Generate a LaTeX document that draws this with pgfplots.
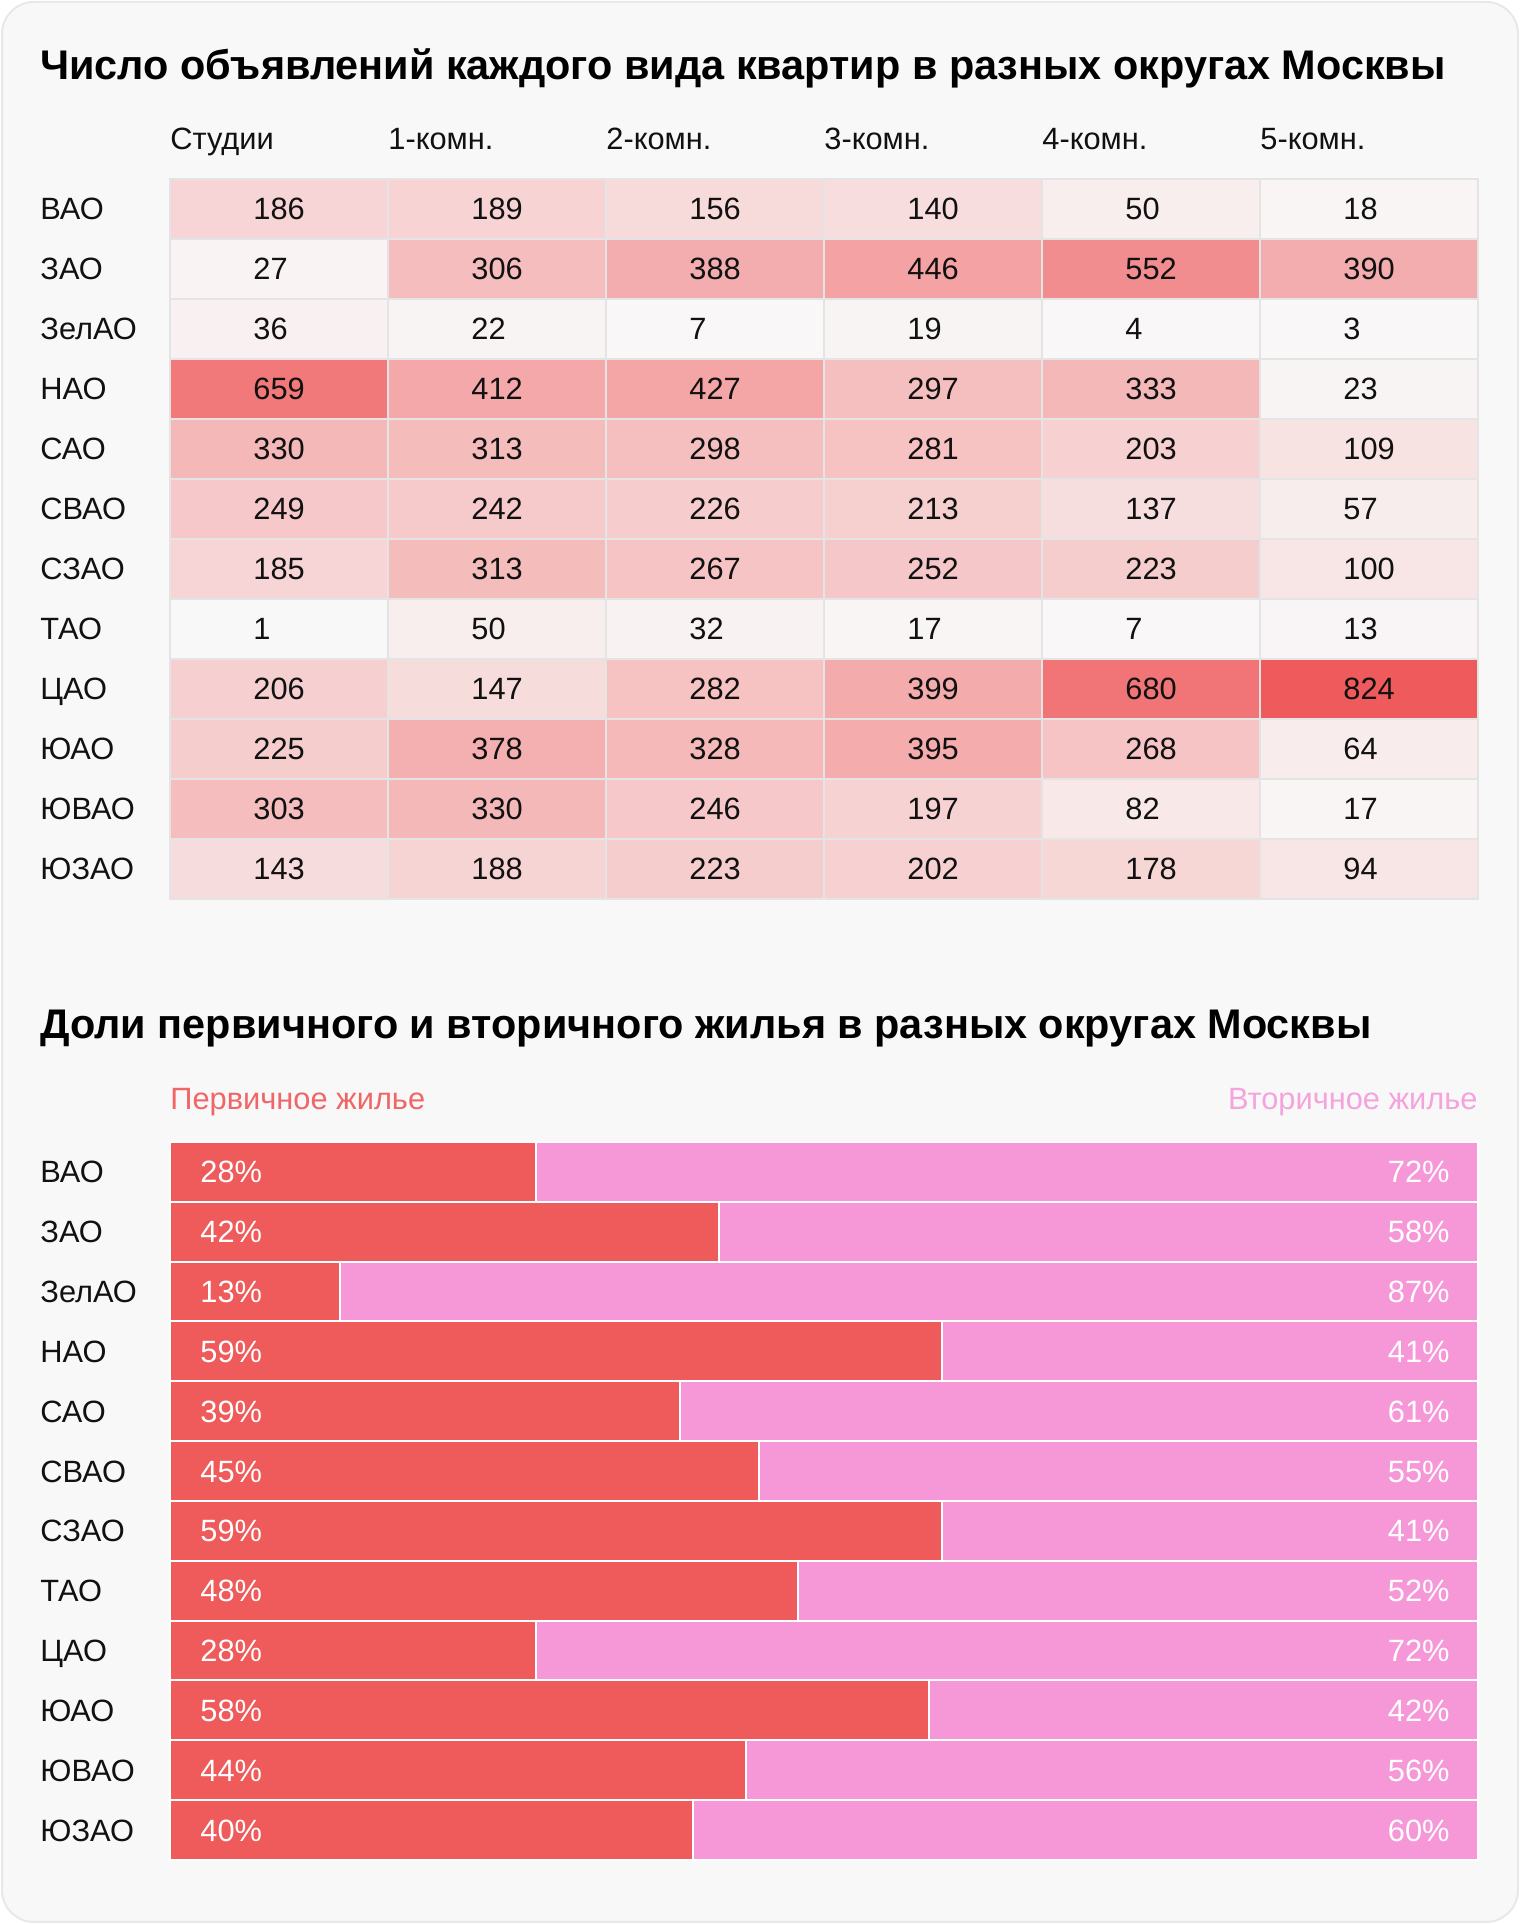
\documentclass[border=0pt]{standalone}
\usepackage{pgfplots}
\pgfplotsset{compat=1.18}
\usepackage{pgfplotstable}
\usepackage{fontspec}
\setmainfont{Liberation Sans}
\definecolor{cardbg}{HTML}{F8F8F8}
\definecolor{cardborder}{HTML}{E8E8E8}
\definecolor{gridc}{HTML}{E4E4E4}
\definecolor{redbar}{HTML}{EF5B5B}
\definecolor{pinkbar}{HTML}{F698D8}
\definecolor{redtxt}{HTML}{F06666}
\definecolor{pinktxt}{HTML}{F5A3DC}
\definecolor{txt}{HTML}{111111}
\newcommand\bodyfont{\fontsize{15.4}{18}\selectfont}
\newcommand\titlefont{\fontsize{20.7}{24}\selectfont\bfseries}

\pgfplotstableread{
x y v
0 0 186
1 0 189
2 0 156
3 0 140
4 0 50
5 0 18
0 1 27
1 1 306
2 1 388
3 1 446
4 1 552
5 1 390
0 2 36
1 2 22
2 2 7
3 2 19
4 2 4
5 2 3
0 3 659
1 3 412
2 3 427
3 3 297
4 3 333
5 3 23
0 4 330
1 4 313
2 4 298
3 4 281
4 4 203
5 4 109
0 5 249
1 5 242
2 5 226
3 5 213
4 5 137
5 5 57
0 6 185
1 6 313
2 6 267
3 6 252
4 6 223
5 6 100
0 7 1
1 7 50
2 7 32
3 7 17
4 7 7
5 7 13
0 8 206
1 8 147
2 8 282
3 8 399
4 8 680
5 8 824
0 9 225
1 9 378
2 9 328
3 9 395
4 9 268
5 9 64
0 10 303
1 10 330
2 10 246
3 10 197
4 10 82
5 10 17
0 11 143
1 11 188
2 11 223
3 11 202
4 11 178
5 11 94
}\heat

\pgfplotstableread{
row p s
0 28 72
1 42 58
2 13 87
3 59 41
4 39 61
5 45 55
6 59 41
7 48 52
8 28 72
9 58 42
10 44 56
11 40 60
}\shares

\pgfplotsset{
  every tick label/.append style={font=\bodyfont, text=txt},
  rowlabels/.style={
    ytick={0,...,11},
    yticklabels={ЮЗАО,ЮВАО,ЮАО,ЦАО,ТАО,СЗАО,СВАО,САО,НАО,ЗелАО,ЗАО,ВАО},
    yticklabel style={anchor=base west, inner sep=0pt, xshift=-65pt, yshift=-5.5pt},
  },
}

\begin{document}
\begin{tikzpicture}
\fill[white] (0pt,0pt) rectangle (760pt,962pt);
\draw[cardborder, fill=cardbg, line width=1pt, rounded corners=16pt] (1pt,1pt) rectangle (759pt,961pt);
\node[anchor=base west, inner sep=0pt, font=\titlefont, text=black] at (20pt,922pt) {Число объявлений каждого вида квартир в разных округах Москвы};
\node[anchor=base west, inner sep=0pt, font=\titlefont, text=black] at (20pt,442.5pt) {Доли первичного и вторичного жилья в разных округах Москвы};

\begin{axis}[
  at={(85pt,512.5pt)}, anchor=south west, scale only axis,
  width=654pt, height=360pt,
  xmin=-0.5, xmax=5.5, ymin=-0.5, ymax=11.5,
  axis on top,
  axis line style={gridc, line width=1pt},
  xtick={-0.5,0.5,1.5,2.5,3.5,4.5},
  xticklabels={Студии,1-комн.,2-комн.,3-комн.,4-комн.,5-комн.},
  xticklabel pos=right,
  xticklabel style={anchor=base west, inner sep=0pt, yshift=14.5pt},
  xmajorgrids,
  rowlabels,
  minor ytick={0.5,1.5,...,10.5},
  yminorgrids,
  grid style={gridc, line width=1pt},
  major tick length=0pt, minor tick length=0pt,
  tick style={draw=none},
  colormap={heat}{rgb255(0cm)=(249,248,248); rgb255(1cm)=(239,90,92)},
  point meta min=0, point meta max=824,
]
\addplot[matrix plot*, mesh/cols=6, point meta=explicit]
  table[x=x, y expr=11-\thisrow{y}, meta=v] {\heat};
\addplot[only marks, mark=none, point meta=explicit symbolic,
  nodes near coords,
  every node near coord/.append style={anchor=base west, inner sep=0pt, xshift=-13pt, yshift=-5.5pt, font=\bodyfont, text=txt}]
  table[x=x, y expr=11-\thisrow{y}, meta=v] {\heat};
\end{axis}

\begin{axis}[
  at={(85pt,32pt)}, anchor=south west, scale only axis,
  width=654pt, height=359pt,
  xmin=0, xmax=100, ymin=-0.5, ymax=11.5,
  clip=false,
  axis line style={draw=none},
  xtick=\empty,
  rowlabels,
  major tick length=0pt,
  tick style={draw=none},
]
\addplot[xbar, bar width=1, bar shift=0pt, fill=pinkbar, draw=white, line width=1pt]
  table[x expr=100, y expr=11-\thisrow{row}] {\shares};
\addplot[xbar, bar width=1, bar shift=0pt, fill=redbar, draw=white, line width=1pt]
  table[x=p, y expr=11-\thisrow{row}] {\shares};
\addplot[only marks, mark=none, point meta=explicit symbolic,
  nodes near coords={\pgfplotspointmeta\%},
  every node near coord/.append style={anchor=base west, inner sep=0pt, xshift=15pt, yshift=-5.5pt, font=\bodyfont, text=white}]
  table[x expr=0, y expr=11-\thisrow{row}, meta=p] {\shares};
\addplot[only marks, mark=none, point meta=explicit symbolic,
  nodes near coords={\pgfplotspointmeta\%},
  every node near coord/.append style={anchor=base east, inner sep=0pt, xshift=-14pt, yshift=-5.5pt, font=\bodyfont, text=white}]
  table[x expr=100, y expr=11-\thisrow{row}, meta=s] {\shares};
\node[anchor=base west, inner sep=0pt, font=\bodyfont, text=redtxt, yshift=16pt] at (rel axis cs:0,1) {Первичное жилье};
\node[anchor=base east, inner sep=0pt, font=\bodyfont, text=pinktxt, yshift=16pt] at (rel axis cs:1,1) {Вторичное жилье};
\end{axis}
\end{tikzpicture}
\end{document}
